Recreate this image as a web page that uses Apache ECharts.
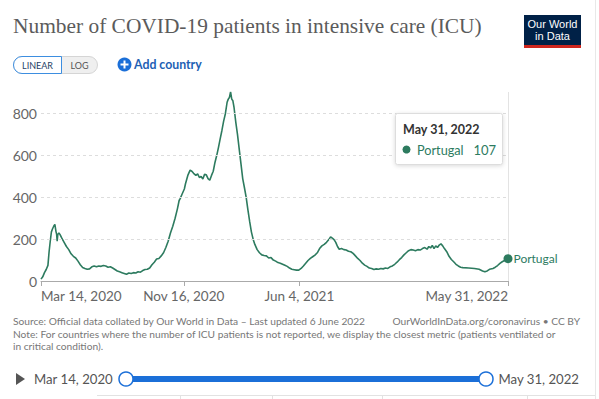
<!DOCTYPE html>
<html><head><meta charset="utf-8">
<script src="https://cdn.jsdelivr.net/npm/echarts@6/dist/echarts.min.js"></script>
<style>html,body{margin:0;padding:0;background:#fff}#c{width:599px;height:399px}</style>
</head><body><div id="c"></div>
<script>
const chartTitle = 'Number of COVID-19 patients in intensive care (ICU)';
const countryName = 'Portugal';
const dates = [
'2020-03-14','2020-03-17','2020-03-20','2020-03-23','2020-03-26','2020-03-28','2020-03-30','2020-04-01','2020-04-03','2020-04-05',
'2020-04-07','2020-04-09','2020-04-10','2020-04-11','2020-04-12','2020-04-14','2020-04-16','2020-04-19','2020-04-23','2020-04-27',
'2020-05-01','2020-05-05','2020-05-09','2020-05-13','2020-05-17','2020-05-21','2020-05-25','2020-05-29','2020-06-02','2020-06-06',
'2020-06-10','2020-06-14','2020-06-18','2020-06-22','2020-06-26','2020-06-30','2020-07-04','2020-07-08','2020-07-12','2020-07-16',
'2020-07-20','2020-07-24','2020-07-28','2020-08-01','2020-08-05','2020-08-09','2020-08-13','2020-08-17','2020-08-21','2020-08-25',
'2020-08-29','2020-09-02','2020-09-06','2020-09-10','2020-09-14','2020-09-18','2020-09-22','2020-09-26','2020-09-30','2020-10-04',
'2020-10-08','2020-10-12','2020-10-16','2020-10-20','2020-10-24','2020-10-28','2020-11-01','2020-11-05','2020-11-08','2020-11-10',
'2020-11-13','2020-11-17','2020-11-19','2020-11-23','2020-11-27','2020-11-30','2020-12-03','2020-12-07','2020-12-10','2020-12-13',
'2020-12-16','2020-12-19','2020-12-22','2020-12-25','2020-12-28','2020-12-31','2021-01-03','2021-01-06','2021-01-09','2021-01-12',
'2021-01-15','2021-01-18','2021-01-21','2021-01-24','2021-01-27','2021-01-30','2021-02-01','2021-02-03','2021-02-05','2021-02-07',
'2021-02-09','2021-02-11','2021-02-14','2021-02-17','2021-02-20','2021-02-23','2021-02-26','2021-03-01','2021-03-04','2021-03-07',
'2021-03-10','2021-03-13','2021-03-16','2021-03-19','2021-03-23','2021-03-27','2021-03-31','2021-04-04','2021-04-08','2021-04-12',
'2021-04-16','2021-04-20','2021-04-24','2021-04-28','2021-05-02','2021-05-06','2021-05-10','2021-05-14','2021-05-18','2021-05-22',
'2021-05-26','2021-05-30','2021-06-03','2021-06-07','2021-06-11','2021-06-15','2021-06-19','2021-06-23','2021-06-27','2021-07-01',
'2021-07-05','2021-07-09','2021-07-13','2021-07-17','2021-07-21','2021-07-25','2021-07-28','2021-07-31','2021-08-03','2021-08-06',
'2021-08-09','2021-08-12','2021-08-16','2021-08-20','2021-08-24','2021-08-28','2021-09-01','2021-09-05','2021-09-09','2021-09-13',
'2021-09-17','2021-09-21','2021-09-25','2021-09-29','2021-10-03','2021-10-07','2021-10-11','2021-10-15','2021-10-19','2021-10-23',
'2021-10-27','2021-10-31','2021-11-04','2021-11-08','2021-11-12','2021-11-16','2021-11-20','2021-11-24','2021-11-28','2021-12-02',
'2021-12-06','2021-12-10','2021-12-14','2021-12-18','2021-12-22','2021-12-26','2021-12-30','2022-01-03','2022-01-07','2022-01-11',
'2022-01-14','2022-01-17','2022-01-20','2022-01-23','2022-01-26','2022-01-29','2022-02-01','2022-02-04','2022-02-07','2022-02-10',
'2022-02-14','2022-02-18','2022-02-22','2022-02-26','2022-03-02','2022-03-06','2022-03-10','2022-03-14','2022-03-24','2022-04-03',
'2022-04-11','2022-04-17','2022-04-21','2022-04-25','2022-04-29','2022-05-05','2022-05-09','2022-05-13','2022-05-17','2022-05-21',
'2022-05-25','2022-05-31'
];
const icuPatients = [
9,20,40,55,75,140,190,235,250,262,
271,235,225,190,222,230,222,205,185,165,
150,130,118,110,95,78,65,60,56,58,
68,72,68,72,70,74,72,66,68,62,
55,48,44,40,36,32,38,36,40,38,
44,42,50,55,56,62,78,90,105,108,
120,135,160,190,230,262,300,345,385,395,
415,440,465,505,530,525,515,505,512,495,
500,488,510,508,490,482,505,525,567,600,
638,680,720,765,800,855,870,878,904,870,
862,830,760,700,630,560,490,446,400,340,
285,235,200,175,150,135,125,122,120,110,
112,100,95,88,85,80,75,70,62,56,
54,52,52,60,72,85,98,108,116,124,
135,155,168,175,185,198,211,205,198,185,
165,152,155,150,148,142,140,132,120,108,
98,85,76,70,62,60,55,58,56,60,
58,62,60,68,72,80,90,102,112,125,
135,145,150,148,145,150,148,155,160,152,
165,158,170,155,168,160,172,178,168,155,
140,118,103,92,80,72,66,64,62,60,
56,48,44,48,56,60,66,74,84,92,
98,107
];
const xTickDates = ['2020-03-14','2020-11-16','2021-06-04','2022-05-31'];
const xTickLabels = ['Mar 14, 2020','Nov 16, 2020','Jun 4, 2021','May 31, 2022'];
const yTicks = [0, 200, 400, 600, 800];
const yMax = 904;
const tooltipDate = 'May 31, 2022';
const sourceText = 'Source: Official data collated by Our World in Data – Last updated 6 June 2022';
const licenseText = 'OurWorldInData.org/coronavirus • CC BY';
const noteLine1 = 'Note: For countries where the number of ICU patients is not reported, we display the closest metric (patients ventilated or';
const noteLine2 = 'in critical condition).';

const green = '#2d7b5f';
const blue = '#1b6fd8';
const ts = d => Date.parse(d + 'T00:00:00Z');
const tickTs = xTickDates.map(ts);
const lastIdx = dates.length - 1;

const chart = echarts.init(document.getElementById('c'), null, {renderer: 'svg'});
chart.setOption({
  animation: false,
  backgroundColor: '#fff',
  grid: {left: 41, right: 91, top: 92, bottom: 118, containLabel: false},
  xAxis: {
    type: 'value',
    min: ts(dates[0]), max: ts(dates[lastIdx]),
    axisLine: {show: true, lineStyle: {color: '#aaa', width: 1}},
    axisTick: {show: true, length: 5, lineStyle: {color: '#aaa'}, customValues: tickTs},
    axisLabel: {
      customValues: tickTs,
      alignMinLabel: 'left', alignMaxLabel: 'right',
      formatter: v => { const i = tickTs.indexOf(v); return i >= 0 ? xTickLabels[i] : ''; },
      color: '#666', fontFamily: 'Lato', fontSize: 13.5, margin: 8
    },
    splitLine: {show: false}
  },
  yAxis: {
    type: 'value', min: 0, max: yMax,
    axisLine: {show: false}, axisTick: {show: false},
    axisLabel: {customValues: yTicks, color: '#666', fontFamily: 'Lato', fontSize: 14, margin: 4},
    splitLine: {show: false}
  },
  series: [
    {
      type: 'line',
      data: dates.map((d, i) => [ts(d), icuPatients[i]]),
      showSymbol: false, symbol: 'none',
      lineStyle: {color: green, width: 1.6},
      emphasis: {disabled: true},
      silent: true,
      z: 3,
      markLine: {
        silent: true, symbol: 'none', label: {show: false},
        lineStyle: {color: '#ddd', type: [3, 3], width: 1},
        data: yTicks.filter(v => v > 0).map(v => ({yAxis: v}))
      }
    },
    {
      type: 'line',
      data: [],
      z: 1,
      markLine: {
        silent: true, symbol: 'none', label: {show: false},
        lineStyle: {color: '#e3e3e3', type: 'solid', width: 1},
        data: [{xAxis: ts(dates[lastIdx])}]
      }
    },
    {
      type: 'scatter',
      data: [[ts(dates[lastIdx]), icuPatients[lastIdx]]],
      symbol: 'circle', symbolSize: 9,
      itemStyle: {color: green, opacity: 1},
      silent: true,
      z: 10,
      label: {show: true, position: 'right', distance: 1, formatter: countryName, color: green, fontFamily: 'Lato', fontSize: 12}
    }
  ],
  graphic: [
    {type: 'text', left: 13, top: 15, style: {text: chartTitle, font: '21.4px "Liberation Serif"', fill: '#5b5b5b'}},
    {type: 'rect', shape: {x: 524, y: 15, width: 57, height: 33}, style: {fill: '#002147'}},
    {type: 'rect', shape: {x: 524, y: 45, width: 57, height: 3}, style: {fill: '#ce261e'}},
    {type: 'text', x: 552.5, y: 24, style: {text: 'Our World', font: '11px "Liberation Sans"', fill: '#fff', align: 'center', verticalAlign: 'middle'}},
    {type: 'text', x: 552.5, y: 36, style: {text: 'in Data', font: '11px "Liberation Sans"', fill: '#fff', align: 'center', verticalAlign: 'middle'}},
    {type: 'rect', shape: {x: 13.5, y: 56.5, width: 84, height: 17, r: 8.5}, style: {fill: '#efefef', stroke: '#d5d5d5', lineWidth: 1}},
    {type: 'rect', shape: {x: 13.5, y: 56.5, width: 48, height: 17, r: [8.5, 0, 0, 8.5]}, style: {fill: '#fff', stroke: '#3d8ee0', lineWidth: 1}},
    {type: 'text', x: 37.5, y: 65, style: {text: 'LINEAR', font: '9px Lato', fill: '#1f3f66', align: 'center', verticalAlign: 'middle'}},
    {type: 'text', x: 79.5, y: 65, style: {text: 'LOG', font: '9px Lato', fill: '#555', align: 'center', verticalAlign: 'middle'}},
    {type: 'circle', shape: {cx: 124.5, cy: 64.5, r: 7}, style: {fill: blue}},
    {type: 'rect', shape: {x: 120.5, y: 63.5, width: 8, height: 2}, style: {fill: '#fff'}},
    {type: 'rect', shape: {x: 123.5, y: 60.5, width: 2, height: 8}, style: {fill: '#fff'}},
    {type: 'text', x: 134, y: 64.5, style: {text: 'Add country', font: 'bold 12.3px Lato', fill: '#1e5fb4', verticalAlign: 'middle'}},
    {type: 'rect', shape: {x: 395.5, y: 113.5, width: 107, height: 51, r: 2}, style: {fill: '#fff', stroke: '#ddd', lineWidth: 1, shadowBlur: 4, shadowColor: 'rgba(0,0,0,0.15)', shadowOffsetY: 1}, z: 100},
    {type: 'text', x: 403, y: 129, z: 101, style: {text: tooltipDate, font: 'bold 12.5px Lato', fill: '#333', verticalAlign: 'middle'}},
    {type: 'circle', shape: {cx: 406.5, cy: 149.5, r: 4}, style: {fill: green}, z: 101},
    {type: 'text', x: 417, y: 149.5, z: 101, style: {text: countryName, font: '12.7px Lato', fill: green, verticalAlign: 'middle'}},
    {type: 'text', x: 496, y: 149.5, z: 101, style: {text: String(icuPatients[lastIdx]), font: '13px Lato', fill: green, align: 'right', verticalAlign: 'middle'}},
    {type: 'text', x: 13, y: 321, style: {text: sourceText, font: '10.2px Lato', fill: '#777', verticalAlign: 'middle'}},
    {type: 'text', x: 580, y: 321, style: {text: licenseText, font: '10.2px Lato', fill: '#777', align: 'right', verticalAlign: 'middle'}},
    {type: 'text', x: 13, y: 334, style: {text: noteLine1, font: '10.2px Lato', fill: '#777', verticalAlign: 'middle'}},
    {type: 'text', x: 13, y: 346, style: {text: noteLine2, font: '10.2px Lato', fill: '#777', verticalAlign: 'middle'}},
    {type: 'polygon', shape: {points: [[16, 373], [16, 385], [25, 379]]}, style: {fill: '#555'}},
    {type: 'text', x: 34, y: 379, style: {text: xTickLabels[0], font: '13.2px Lato', fill: '#555', verticalAlign: 'middle'}},
    {type: 'rect', shape: {x: 126, y: 376, width: 360, height: 6}, style: {fill: blue}},
    {type: 'circle', shape: {cx: 126, cy: 379, r: 7}, style: {fill: '#fff', stroke: blue, lineWidth: 1.5}},
    {type: 'circle', shape: {cx: 486, cy: 379, r: 7}, style: {fill: '#fff', stroke: blue, lineWidth: 1.5}},
    {type: 'text', x: 579, y: 379, style: {text: xTickLabels[3], font: '13.2px Lato', fill: '#555', align: 'right', verticalAlign: 'middle'}},
    {type: 'line', shape: {x1: 595.5, y1: 0, x2: 595.5, y2: 399}, style: {stroke: '#e8e8e8', lineWidth: 1}},
    {type: 'line', shape: {x1: 97, y1: 395.5, x2: 595, y2: 395.5}, style: {stroke: '#e2e2e2', lineWidth: 1}},
    {type: 'line', shape: {x1: 180.5, y1: 395.5, x2: 180.5, y2: 399}, style: {stroke: '#e2e2e2', lineWidth: 1}},
    {type: 'line', shape: {x1: 272.5, y1: 395.5, x2: 272.5, y2: 399}, style: {stroke: '#e2e2e2', lineWidth: 1}},
    {type: 'line', shape: {x1: 382.5, y1: 395.5, x2: 382.5, y2: 399}, style: {stroke: '#e2e2e2', lineWidth: 1}},
    {type: 'line', shape: {x1: 527.5, y1: 395.5, x2: 527.5, y2: 399}, style: {stroke: '#e2e2e2', lineWidth: 1}}
  ]
});
</script>
</body></html>
